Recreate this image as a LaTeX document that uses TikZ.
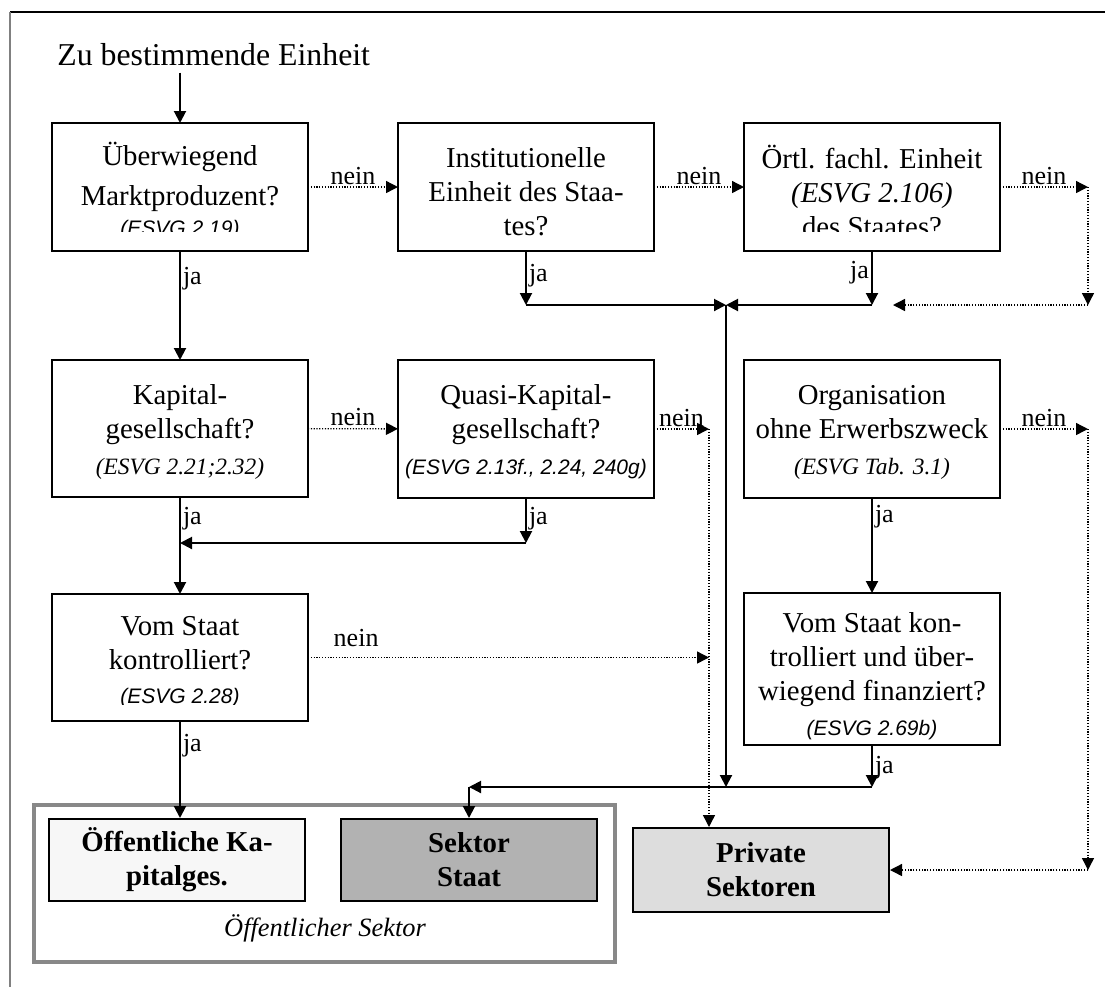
\documentclass[tikz,border=0pt]{standalone}
\usepackage{fontspec}
\setmainfont{Liberation Serif}
\newfontfamily\refsans{Liberation Sans}
\usetikzlibrary{arrows.meta}

\newcommand{\mainsize}{\fontsize{14.4}{17}\selectfont}
\newcommand{\refserif}[1]{{\fontsize{11.7}{14}\selectfont\itshape #1}}
\newcommand{\refarial}[1]{{\refsans\fontsize{10.5}{13}\selectfont\itshape #1}}
\newcommand{\oben}[1]{\rule{0pt}{#1}}

\definecolor{hellgrau}{HTML}{F7F7F7}
\definecolor{mittelgrau}{HTML}{B2B2B2}
\definecolor{privgrau}{HTML}{DDDDDD}
\definecolor{rahmengrau}{HTML}{888888}

\tikzset{
  frage/.style={draw, line width=1pt, fill=white, minimum width=128pt,
    align=center, font=\mainsize, inner sep=2pt, outer sep=0pt},
  ziel/.style={draw, line width=1pt, minimum width=128pt, minimum height=41pt,
    align=center, font=\mainsize\bfseries, inner sep=2pt},
  ja/.style={line width=1pt, -{Triangle[length=6pt,width=6pt]}},
  nein/.style={line width=0.7pt, dash pattern=on 0.6pt off 0.8pt,
    -{Triangle[length=6pt,width=6pt]}},
  marke/.style={font=\fontsize{13}{15}\selectfont, inner sep=1pt},
  abschnitt/.style={fill=white},
}

\begin{document}
\begin{tikzpicture}[x=0.5pt, y=-0.5pt]
  \useasboundingbox (0,0) rectangle (1105,987);

  % Rahmen
  \draw[line width=0.7pt] (10,12) -- (1105,12);
  \draw[line width=0.8pt, gray] (10,12) -- (10,987);

  \node[anchor=west, inner sep=0pt, font=\fontsize{15.9}{18}\selectfont]
    (titel) at (57,55) {Zu bestimmende Einheit};

  % Fragen
  \node[frage, minimum height=64pt] (b1) at (180,187)
    {\oben{16pt}Überwiegend\\[3pt]Marktproduzent?\\[-2pt]\refarial{(ESVG 2.19)}};
  \node[frage, minimum height=64pt] (b2) at (526,187)
    {\oben{15pt}Institutionelle\\Einheit des Staa-\\tes?};
  \node[frage, minimum height=64pt] (b3) at (872,187)
    {\oben{16pt}Örtl. fachl. Einheit\\\textit{(ESVG 2.106)}\\des Staates?};
  \node[frage, minimum height=68.5pt] (b4) at (180,428.5)
    {\oben{13pt}Kapital-\\gesellschaft?\\[1pt]\refserif{(ESVG 2.21;2.32)}};
  \node[frage, minimum height=69pt] (b5) at (526,429)
    {\oben{13pt}Quasi-Kapital-\\gesellschaft?\\[1pt]\refarial{(ESVG 2.13f., 2.24, 240g)}};
  \node[frage, minimum height=69pt] (b6) at (872,429)
    {\oben{13pt}Organisation\\ohne Erwerbszweck\\[1pt]\refserif{(ESVG Tab. 3.1)}};
  \node[frage, minimum height=63.5pt] (b7) at (180,657.5)
    {\oben{14pt}Vom Staat\\kontrolliert?\\\refarial{(ESVG 2.28)}};
  \node[frage, minimum height=76pt] (b8) at (872,669)
    {\oben{17pt}Vom Staat kon-\\trolliert und über-\\wiegend finanziert?\\[0.5pt]\refarial{(ESVG 2.69b)}};

  % abgeschnittene Zeilen
  \fill[abschnitt] ([shift={(0.8pt,0.8pt)}]b1.south west)
    rectangle ([shift={(-0.8pt,9.5pt)}]b1.south east);
  \fill[abschnitt] ([shift={(0.8pt,0.8pt)}]b3.south west)
    rectangle ([shift={(-0.8pt,9.3pt)}]b3.south east);
  \fill[abschnitt] ([shift={(0.8pt,0.8pt)}]b7.south west)
    rectangle ([shift={(-0.8pt,8pt)}]b7.south east);

  % Sektoren
  \draw[line width=2pt, rahmengrau] (34,805) rectangle (615,962);
  \node[ziel, fill=hellgrau] (oeff) at (177,860) {Öffentliche Ka-\\pitalges.};
  \node[ziel, fill=mittelgrau] (sektor) at (469,860) {Sektor\\Staat};
  \node[ziel, fill=privgrau, minimum height=42pt] (priv) at (761,870)
    {Private\\Sektoren};
  \node[font=\fontsize{13.2}{15}\selectfont\itshape] (oesektor) at (325,928)
    {Öffentlicher Sektor};

  % Verbindungen
  \coordinate (r1) at (1088,187);
  \coordinate (r2) at (1088,305);
  \coordinate (r3) at (893,305);
  \coordinate (j2) at (526,305);
  \coordinate (j3) at (872,305);
  \coordinate (m1) at (726,305);
  \coordinate (m2) at (726,787);
  \coordinate (q1) at (709,429);
  \coordinate (q2) at (526,543);
  \coordinate (k1) at (180,543);
  \coordinate (o1) at (1088,429);
  \coordinate (o2) at (1088,870);
  \coordinate (v1) at (872,787);
  \coordinate (s1) at (sektor |- v1);

  \draw[ja, shorten <=3pt] (b1.north |- titel.south) -- (b1.north);

  \draw[nein] (b1) -- node[marke, above] {nein} (b2);
  \draw[nein] (b2) -- node[marke, above] {nein} (b3);
  \draw[nein] (b3) -- node[marke, above] {nein} (r1);
  \draw[nein] (r1) -- (r2);
  \draw[nein] (r2) -- (r3);

  \draw[ja] (b2) -- node[marke, right, pos=.45] {ja} (j2);
  \draw[ja] (b3) -- node[marke, left, pos=.4] {ja} (j3);
  \draw[ja] (j2) -- (m1);
  \draw[ja] (j3) -- (m1);
  \draw[ja] (m1) -- (m2);

  \draw[ja] (b1) -- node[marke, right, pos=.25] {ja} (b4);
  \draw[nein] (b4) -- node[marke, above] {nein} (b5);
  \draw[nein] (b5) -- node[marke, above] {nein} (q1);
  \draw[nein] (q1) -- (q1 |- priv.north);
  \draw[ja] (b5) -- node[marke, right, pos=.45] {ja} (q2);
  \draw[ja] (q2) -- (k1);
  \draw[ja] (b4) -- node[marke, right, pos=.22] {ja} (b7);

  \draw[nein] (b6) -- node[marke, above] {nein} (o1);
  \draw[nein] (o1) -- (o2);
  \draw[nein] (o2) -- (priv);
  \draw[ja] (b6) -- node[marke, right, pos=.2] {ja} (b8);

  \draw[nein] (b7) -- node[marke, above=4pt, pos=.12] {nein} (b7 -| q1);
  \draw[ja] (b7.south) -- node[marke, right, pos=.25] {ja} (b7.south |- oeff.north);
  \draw[ja] (b8) -- node[marke, right, pos=.55] {ja} (v1);
  \draw[ja] (v1) -- (s1);
  \draw[ja] (s1) -- (sektor);
\end{tikzpicture}
\end{document}
